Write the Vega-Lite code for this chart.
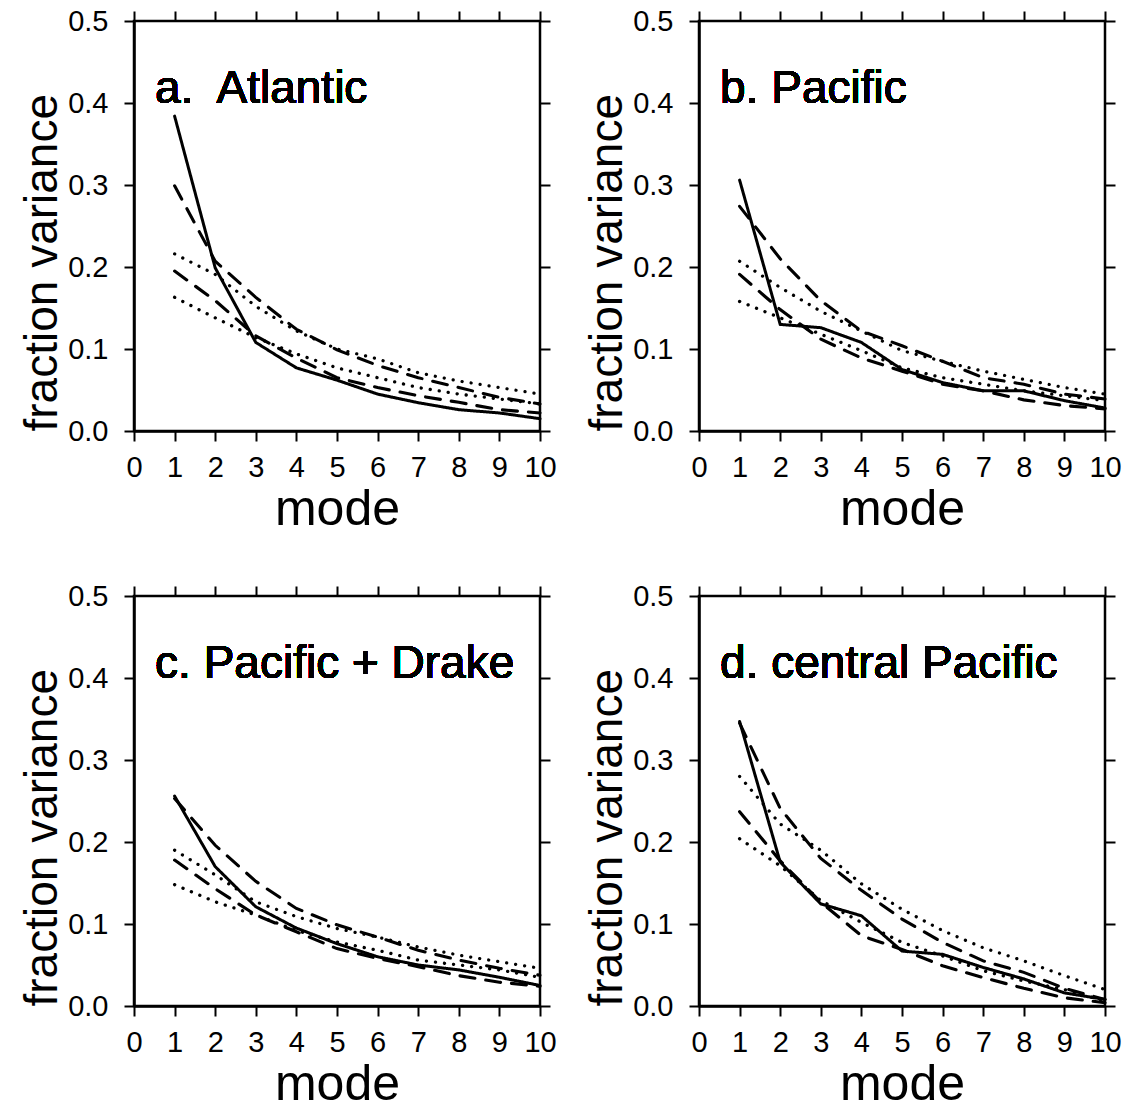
{
  "$schema": "https://vega.github.io/schema/vega-lite/v6.json",
  "padding": {"top": 5, "left": 18, "right": 0, "bottom": 0},
  "background": "white",
  "datasets": {
    "curves": [
      {"panel": "a", "series": "observed", "mode": 1, "value": 0.384},
      {"panel": "a", "series": "observed", "mode": 2, "value": 0.199},
      {"panel": "a", "series": "observed", "mode": 3, "value": 0.108},
      {"panel": "a", "series": "observed", "mode": 4, "value": 0.077},
      {"panel": "a", "series": "observed", "mode": 5, "value": 0.062},
      {"panel": "a", "series": "observed", "mode": 6, "value": 0.045},
      {"panel": "a", "series": "observed", "mode": 7, "value": 0.0345},
      {"panel": "a", "series": "observed", "mode": 8, "value": 0.026},
      {"panel": "a", "series": "observed", "mode": 9, "value": 0.022},
      {"panel": "a", "series": "observed", "mode": 10, "value": 0.015},
      {"panel": "a", "series": "dashed upper", "mode": 1, "value": 0.299},
      {"panel": "a", "series": "dashed upper", "mode": 2, "value": 0.207},
      {"panel": "a", "series": "dashed upper", "mode": 3, "value": 0.163},
      {"panel": "a", "series": "dashed upper", "mode": 4, "value": 0.124},
      {"panel": "a", "series": "dashed upper", "mode": 5, "value": 0.099},
      {"panel": "a", "series": "dashed upper", "mode": 6, "value": 0.080},
      {"panel": "a", "series": "dashed upper", "mode": 7, "value": 0.065},
      {"panel": "a", "series": "dashed upper", "mode": 8, "value": 0.053},
      {"panel": "a", "series": "dashed upper", "mode": 9, "value": 0.041},
      {"panel": "a", "series": "dashed upper", "mode": 10, "value": 0.033},
      {"panel": "a", "series": "dashed lower", "mode": 1, "value": 0.195},
      {"panel": "a", "series": "dashed lower", "mode": 2, "value": 0.159},
      {"panel": "a", "series": "dashed lower", "mode": 3, "value": 0.116},
      {"panel": "a", "series": "dashed lower", "mode": 4, "value": 0.089},
      {"panel": "a", "series": "dashed lower", "mode": 5, "value": 0.065},
      {"panel": "a", "series": "dashed lower", "mode": 6, "value": 0.053},
      {"panel": "a", "series": "dashed lower", "mode": 7, "value": 0.043},
      {"panel": "a", "series": "dashed lower", "mode": 8, "value": 0.035},
      {"panel": "a", "series": "dashed lower", "mode": 9, "value": 0.026},
      {"panel": "a", "series": "dashed lower", "mode": 10, "value": 0.022},
      {"panel": "a", "series": "dotted upper", "mode": 1, "value": 0.216},
      {"panel": "a", "series": "dotted upper", "mode": 2, "value": 0.191},
      {"panel": "a", "series": "dotted upper", "mode": 3, "value": 0.152},
      {"panel": "a", "series": "dotted upper", "mode": 4, "value": 0.122},
      {"panel": "a", "series": "dotted upper", "mode": 5, "value": 0.100},
      {"panel": "a", "series": "dotted upper", "mode": 6, "value": 0.088},
      {"panel": "a", "series": "dotted upper", "mode": 7, "value": 0.071},
      {"panel": "a", "series": "dotted upper", "mode": 8, "value": 0.061},
      {"panel": "a", "series": "dotted upper", "mode": 9, "value": 0.053},
      {"panel": "a", "series": "dotted upper", "mode": 10, "value": 0.045},
      {"panel": "a", "series": "dotted lower", "mode": 1, "value": 0.163},
      {"panel": "a", "series": "dotted lower", "mode": 2, "value": 0.138},
      {"panel": "a", "series": "dotted lower", "mode": 3, "value": 0.114},
      {"panel": "a", "series": "dotted lower", "mode": 4, "value": 0.094},
      {"panel": "a", "series": "dotted lower", "mode": 5, "value": 0.077},
      {"panel": "a", "series": "dotted lower", "mode": 6, "value": 0.065},
      {"panel": "a", "series": "dotted lower", "mode": 7, "value": 0.053},
      {"panel": "a", "series": "dotted lower", "mode": 8, "value": 0.045},
      {"panel": "a", "series": "dotted lower", "mode": 9, "value": 0.039},
      {"panel": "a", "series": "dotted lower", "mode": 10, "value": 0.033},

      {"panel": "b", "series": "observed", "mode": 1, "value": 0.306},
      {"panel": "b", "series": "observed", "mode": 2, "value": 0.130},
      {"panel": "b", "series": "observed", "mode": 3, "value": 0.126},
      {"panel": "b", "series": "observed", "mode": 4, "value": 0.108},
      {"panel": "b", "series": "observed", "mode": 5, "value": 0.075},
      {"panel": "b", "series": "observed", "mode": 6, "value": 0.059},
      {"panel": "b", "series": "observed", "mode": 7, "value": 0.049},
      {"panel": "b", "series": "observed", "mode": 8, "value": 0.049},
      {"panel": "b", "series": "observed", "mode": 9, "value": 0.037},
      {"panel": "b", "series": "observed", "mode": 10, "value": 0.028},
      {"panel": "b", "series": "dashed upper", "mode": 1, "value": 0.274},
      {"panel": "b", "series": "dashed upper", "mode": 2, "value": 0.210},
      {"panel": "b", "series": "dashed upper", "mode": 3, "value": 0.159},
      {"panel": "b", "series": "dashed upper", "mode": 4, "value": 0.122},
      {"panel": "b", "series": "dashed upper", "mode": 5, "value": 0.104},
      {"panel": "b", "series": "dashed upper", "mode": 6, "value": 0.085},
      {"panel": "b", "series": "dashed upper", "mode": 7, "value": 0.065},
      {"panel": "b", "series": "dashed upper", "mode": 8, "value": 0.057},
      {"panel": "b", "series": "dashed upper", "mode": 9, "value": 0.045},
      {"panel": "b", "series": "dashed upper", "mode": 10, "value": 0.039},
      {"panel": "b", "series": "dashed lower", "mode": 1, "value": 0.191},
      {"panel": "b", "series": "dashed lower", "mode": 2, "value": 0.148},
      {"panel": "b", "series": "dashed lower", "mode": 3, "value": 0.112},
      {"panel": "b", "series": "dashed lower", "mode": 4, "value": 0.089},
      {"panel": "b", "series": "dashed lower", "mode": 5, "value": 0.073},
      {"panel": "b", "series": "dashed lower", "mode": 6, "value": 0.057},
      {"panel": "b", "series": "dashed lower", "mode": 7, "value": 0.049},
      {"panel": "b", "series": "dashed lower", "mode": 8, "value": 0.038},
      {"panel": "b", "series": "dashed lower", "mode": 9, "value": 0.031},
      {"panel": "b", "series": "dashed lower", "mode": 10, "value": 0.027},
      {"panel": "b", "series": "dotted upper", "mode": 1, "value": 0.207},
      {"panel": "b", "series": "dotted upper", "mode": 2, "value": 0.175},
      {"panel": "b", "series": "dotted upper", "mode": 3, "value": 0.146},
      {"panel": "b", "series": "dotted upper", "mode": 4, "value": 0.122},
      {"panel": "b", "series": "dotted upper", "mode": 5, "value": 0.098},
      {"panel": "b", "series": "dotted upper", "mode": 6, "value": 0.085},
      {"panel": "b", "series": "dotted upper", "mode": 7, "value": 0.073},
      {"panel": "b", "series": "dotted upper", "mode": 8, "value": 0.063},
      {"panel": "b", "series": "dotted upper", "mode": 9, "value": 0.053},
      {"panel": "b", "series": "dotted upper", "mode": 10, "value": 0.045},
      {"panel": "b", "series": "dotted lower", "mode": 1, "value": 0.158},
      {"panel": "b", "series": "dotted lower", "mode": 2, "value": 0.138},
      {"panel": "b", "series": "dotted lower", "mode": 3, "value": 0.118},
      {"panel": "b", "series": "dotted lower", "mode": 4, "value": 0.098},
      {"panel": "b", "series": "dotted lower", "mode": 5, "value": 0.077},
      {"panel": "b", "series": "dotted lower", "mode": 6, "value": 0.065},
      {"panel": "b", "series": "dotted lower", "mode": 7, "value": 0.057},
      {"panel": "b", "series": "dotted lower", "mode": 8, "value": 0.049},
      {"panel": "b", "series": "dotted lower", "mode": 9, "value": 0.043},
      {"panel": "b", "series": "dotted lower", "mode": 10, "value": 0.037},

      {"panel": "c", "series": "observed", "mode": 1, "value": 0.256},
      {"panel": "c", "series": "observed", "mode": 2, "value": 0.170},
      {"panel": "c", "series": "observed", "mode": 3, "value": 0.121},
      {"panel": "c", "series": "observed", "mode": 4, "value": 0.095},
      {"panel": "c", "series": "observed", "mode": 5, "value": 0.076},
      {"panel": "c", "series": "observed", "mode": 6, "value": 0.060},
      {"panel": "c", "series": "observed", "mode": 7, "value": 0.050},
      {"panel": "c", "series": "observed", "mode": 8, "value": 0.044},
      {"panel": "c", "series": "observed", "mode": 9, "value": 0.035},
      {"panel": "c", "series": "observed", "mode": 10, "value": 0.025},
      {"panel": "c", "series": "dashed upper", "mode": 1, "value": 0.253},
      {"panel": "c", "series": "dashed upper", "mode": 2, "value": 0.196},
      {"panel": "c", "series": "dashed upper", "mode": 3, "value": 0.152},
      {"panel": "c", "series": "dashed upper", "mode": 4, "value": 0.119},
      {"panel": "c", "series": "dashed upper", "mode": 5, "value": 0.099},
      {"panel": "c", "series": "dashed upper", "mode": 6, "value": 0.084},
      {"panel": "c", "series": "dashed upper", "mode": 7, "value": 0.068},
      {"panel": "c", "series": "dashed upper", "mode": 8, "value": 0.056},
      {"panel": "c", "series": "dashed upper", "mode": 9, "value": 0.046},
      {"panel": "c", "series": "dashed upper", "mode": 10, "value": 0.0375},
      {"panel": "c", "series": "dashed lower", "mode": 1, "value": 0.178},
      {"panel": "c", "series": "dashed lower", "mode": 2, "value": 0.143},
      {"panel": "c", "series": "dashed lower", "mode": 3, "value": 0.111},
      {"panel": "c", "series": "dashed lower", "mode": 4, "value": 0.0905},
      {"panel": "c", "series": "dashed lower", "mode": 5, "value": 0.070},
      {"panel": "c", "series": "dashed lower", "mode": 6, "value": 0.058},
      {"panel": "c", "series": "dashed lower", "mode": 7, "value": 0.048},
      {"panel": "c", "series": "dashed lower", "mode": 8, "value": 0.037},
      {"panel": "c", "series": "dashed lower", "mode": 9, "value": 0.029},
      {"panel": "c", "series": "dashed lower", "mode": 10, "value": 0.024},
      {"panel": "c", "series": "dotted upper", "mode": 1, "value": 0.190},
      {"panel": "c", "series": "dotted upper", "mode": 2, "value": 0.160},
      {"panel": "c", "series": "dotted upper", "mode": 3, "value": 0.127},
      {"panel": "c", "series": "dotted upper", "mode": 4, "value": 0.109},
      {"panel": "c", "series": "dotted upper", "mode": 5, "value": 0.0945},
      {"panel": "c", "series": "dotted upper", "mode": 6, "value": 0.084},
      {"panel": "c", "series": "dotted upper", "mode": 7, "value": 0.072},
      {"panel": "c", "series": "dotted upper", "mode": 8, "value": 0.062},
      {"panel": "c", "series": "dotted upper", "mode": 9, "value": 0.054},
      {"panel": "c", "series": "dotted upper", "mode": 10, "value": 0.046},
      {"panel": "c", "series": "dotted lower", "mode": 1, "value": 0.148},
      {"panel": "c", "series": "dotted lower", "mode": 2, "value": 0.127},
      {"panel": "c", "series": "dotted lower", "mode": 3, "value": 0.111},
      {"panel": "c", "series": "dotted lower", "mode": 4, "value": 0.092},
      {"panel": "c", "series": "dotted lower", "mode": 5, "value": 0.078},
      {"panel": "c", "series": "dotted lower", "mode": 6, "value": 0.068},
      {"panel": "c", "series": "dotted lower", "mode": 7, "value": 0.056},
      {"panel": "c", "series": "dotted lower", "mode": 8, "value": 0.050},
      {"panel": "c", "series": "dotted lower", "mode": 9, "value": 0.044},
      {"panel": "c", "series": "dotted lower", "mode": 10, "value": 0.035},

      {"panel": "d", "series": "observed", "mode": 1, "value": 0.347},
      {"panel": "d", "series": "observed", "mode": 2, "value": 0.1755},
      {"panel": "d", "series": "observed", "mode": 3, "value": 0.1245},
      {"panel": "d", "series": "observed", "mode": 4, "value": 0.110},
      {"panel": "d", "series": "observed", "mode": 5, "value": 0.067},
      {"panel": "d", "series": "observed", "mode": 6, "value": 0.063},
      {"panel": "d", "series": "observed", "mode": 7, "value": 0.047},
      {"panel": "d", "series": "observed", "mode": 8, "value": 0.033},
      {"panel": "d", "series": "observed", "mode": 9, "value": 0.016},
      {"panel": "d", "series": "observed", "mode": 10, "value": 0.008},
      {"panel": "d", "series": "dashed upper", "mode": 1, "value": 0.345},
      {"panel": "d", "series": "dashed upper", "mode": 2, "value": 0.241},
      {"panel": "d", "series": "dashed upper", "mode": 3, "value": 0.180},
      {"panel": "d", "series": "dashed upper", "mode": 4, "value": 0.141},
      {"panel": "d", "series": "dashed upper", "mode": 5, "value": 0.106},
      {"panel": "d", "series": "dashed upper", "mode": 6, "value": 0.0775},
      {"panel": "d", "series": "dashed upper", "mode": 7, "value": 0.055},
      {"panel": "d", "series": "dashed upper", "mode": 8, "value": 0.041},
      {"panel": "d", "series": "dashed upper", "mode": 9, "value": 0.0216},
      {"panel": "d", "series": "dashed upper", "mode": 10, "value": 0.008},
      {"panel": "d", "series": "dashed lower", "mode": 1, "value": 0.237},
      {"panel": "d", "series": "dashed lower", "mode": 2, "value": 0.177},
      {"panel": "d", "series": "dashed lower", "mode": 3, "value": 0.1265},
      {"panel": "d", "series": "dashed lower", "mode": 4, "value": 0.0857},
      {"panel": "d", "series": "dashed lower", "mode": 5, "value": 0.069},
      {"panel": "d", "series": "dashed lower", "mode": 6, "value": 0.049},
      {"panel": "d", "series": "dashed lower", "mode": 7, "value": 0.0347},
      {"panel": "d", "series": "dashed lower", "mode": 8, "value": 0.0216},
      {"panel": "d", "series": "dashed lower", "mode": 9, "value": 0.010},
      {"panel": "d", "series": "dashed lower", "mode": 10, "value": 0.004},
      {"panel": "d", "series": "dotted upper", "mode": 1, "value": 0.280},
      {"panel": "d", "series": "dotted upper", "mode": 2, "value": 0.222},
      {"panel": "d", "series": "dotted upper", "mode": 3, "value": 0.190},
      {"panel": "d", "series": "dotted upper", "mode": 4, "value": 0.149},
      {"panel": "d", "series": "dotted upper", "mode": 5, "value": 0.118},
      {"panel": "d", "series": "dotted upper", "mode": 6, "value": 0.092},
      {"panel": "d", "series": "dotted upper", "mode": 7, "value": 0.071},
      {"panel": "d", "series": "dotted upper", "mode": 8, "value": 0.055},
      {"panel": "d", "series": "dotted upper", "mode": 9, "value": 0.037},
      {"panel": "d", "series": "dotted upper", "mode": 10, "value": 0.020},
      {"panel": "d", "series": "dotted lower", "mode": 1, "value": 0.204},
      {"panel": "d", "series": "dotted lower", "mode": 2, "value": 0.171},
      {"panel": "d", "series": "dotted lower", "mode": 3, "value": 0.1286},
      {"panel": "d", "series": "dotted lower", "mode": 4, "value": 0.102},
      {"panel": "d", "series": "dotted lower", "mode": 5, "value": 0.0776},
      {"panel": "d", "series": "dotted lower", "mode": 6, "value": 0.061},
      {"panel": "d", "series": "dotted lower", "mode": 7, "value": 0.043},
      {"panel": "d", "series": "dotted lower", "mode": 8, "value": 0.0306},
      {"panel": "d", "series": "dotted lower", "mode": 9, "value": 0.020},
      {"panel": "d", "series": "dotted lower", "mode": 10, "value": 0.006}
    ]
  },
  "columns": 2,
  "spacing": {"column": 25, "row": 44},
  "config": {
    "font": "Liberation Sans",
    "view": {"stroke": "black", "strokeWidth": 2.5},
    "axis": {
      "grid": false,
      "domainColor": "black",
      "domainWidth": 2.5,
      "tickColor": "black",
      "tickWidth": 2,
      "tickSize": 10,
      "labelColor": "black",
      "labelFont": "Liberation Sans",
      "labelFontSize": 29,
      "labelFlush": false,
      "labelOverlap": false,
      "titleColor": "black",
      "titleFont": "Liberation Sans",
      "titleFontWeight": "normal"
    }
  },
  "concat": [
    {
      "width": 406, "height": 410,
      "data": {"name": "curves"},
      "transform": [{"filter": "datum.panel == 'a'"}],
      "layer": [
        {
          "mark": {"type": "line", "strokeCap": "round"},
          "encoding": {
            "x": {"field": "mode", "type": "quantitative", "scale": {"domain": [0, 10], "nice": false}, "axis": {"orient": "bottom", "values": [0,1,2,3,4,5,6,7,8,9,10], "title": "mode", "titleFontSize": 50, "labelPadding": 12, "titlePadding": 2}},
            "y": {"field": "value", "type": "quantitative", "scale": {"domain": [0, 0.5], "nice": false}, "axis": {"orient": "left", "values": [0, 0.1, 0.2, 0.3, 0.4, 0.5], "format": ".1f", "title": "fraction variance", "titleFontSize": 46, "titleAnchor": "start", "labelPadding": 16, "titlePadding": 1}},
            "detail": {"field": "series"},
            "strokeDash": {"field": "series", "type": "nominal", "legend": null, "scale": {"domain": ["observed", "dashed upper", "dashed lower", "dotted upper", "dotted lower"], "range": [[1, 0], [15, 11], [15, 11], [0.1, 9], [0.1, 9]]}},
            "strokeWidth": {"field": "series", "type": "nominal", "legend": null, "scale": {"domain": ["observed", "dashed upper", "dashed lower", "dotted upper", "dotted lower"], "range": [3, 3.3, 3.3, 3.6, 3.6]}},
            "color": {"value": "black"}
          }
        },
        {
          "mark": {"type": "text", "align": "left", "baseline": "alphabetic", "fontSize": 46, "font": "Liberation Sans"},
          "encoding": {
            "x": {"datum": 0.52, "type": "quantitative", "axis": {"orient": "top", "values": [0,1,2,3,4,5,6,7,8,9,10], "labels": false, "title": null, "domain": false}},
            "y": {"datum": 0.4, "type": "quantitative", "axis": {"orient": "right", "values": [0, 0.1, 0.2, 0.3, 0.4, 0.5], "labels": false, "title": null, "domain": false}},
            "text": {"value": "a.\u00a0 Atlantic"},
            "color": {"value": "black"}
          }
        }
      ],
      "resolve": {"axis": {"x": "independent", "y": "independent"}}
    },
    {
      "width": 406, "height": 410,
      "data": {"name": "curves"},
      "transform": [{"filter": "datum.panel == 'b'"}],
      "layer": [
        {
          "mark": {"type": "line", "strokeCap": "round"},
          "encoding": {
            "x": {"field": "mode", "type": "quantitative", "scale": {"domain": [0, 10], "nice": false}, "axis": {"orient": "bottom", "values": [0,1,2,3,4,5,6,7,8,9,10], "title": "mode", "titleFontSize": 50, "labelPadding": 12, "titlePadding": 2}},
            "y": {"field": "value", "type": "quantitative", "scale": {"domain": [0, 0.5], "nice": false}, "axis": {"orient": "left", "values": [0, 0.1, 0.2, 0.3, 0.4, 0.5], "format": ".1f", "title": "fraction variance", "titleFontSize": 46, "titleAnchor": "start", "labelPadding": 16, "titlePadding": 1}},
            "detail": {"field": "series"},
            "strokeDash": {"field": "series", "type": "nominal", "legend": null, "scale": {"domain": ["observed", "dashed upper", "dashed lower", "dotted upper", "dotted lower"], "range": [[1, 0], [15, 11], [15, 11], [0.1, 9], [0.1, 9]]}},
            "strokeWidth": {"field": "series", "type": "nominal", "legend": null, "scale": {"domain": ["observed", "dashed upper", "dashed lower", "dotted upper", "dotted lower"], "range": [3, 3.3, 3.3, 3.6, 3.6]}},
            "color": {"value": "black"}
          }
        },
        {
          "mark": {"type": "text", "align": "left", "baseline": "alphabetic", "fontSize": 46, "font": "Liberation Sans"},
          "encoding": {
            "x": {"datum": 0.52, "type": "quantitative", "axis": {"orient": "top", "values": [0,1,2,3,4,5,6,7,8,9,10], "labels": false, "title": null, "domain": false}},
            "y": {"datum": 0.4, "type": "quantitative", "axis": {"orient": "right", "values": [0, 0.1, 0.2, 0.3, 0.4, 0.5], "labels": false, "title": null, "domain": false}},
            "text": {"value": "b. Pacific"},
            "color": {"value": "black"}
          }
        }
      ],
      "resolve": {"axis": {"x": "independent", "y": "independent"}}
    },
    {
      "width": 406, "height": 410,
      "data": {"name": "curves"},
      "transform": [{"filter": "datum.panel == 'c'"}],
      "layer": [
        {
          "mark": {"type": "line", "strokeCap": "round"},
          "encoding": {
            "x": {"field": "mode", "type": "quantitative", "scale": {"domain": [0, 10], "nice": false}, "axis": {"orient": "bottom", "values": [0,1,2,3,4,5,6,7,8,9,10], "title": "mode", "titleFontSize": 50, "labelPadding": 12, "titlePadding": 2}},
            "y": {"field": "value", "type": "quantitative", "scale": {"domain": [0, 0.5], "nice": false}, "axis": {"orient": "left", "values": [0, 0.1, 0.2, 0.3, 0.4, 0.5], "format": ".1f", "title": "fraction variance", "titleFontSize": 46, "titleAnchor": "start", "labelPadding": 16, "titlePadding": 1}},
            "detail": {"field": "series"},
            "strokeDash": {"field": "series", "type": "nominal", "legend": null, "scale": {"domain": ["observed", "dashed upper", "dashed lower", "dotted upper", "dotted lower"], "range": [[1, 0], [15, 11], [15, 11], [0.1, 9], [0.1, 9]]}},
            "strokeWidth": {"field": "series", "type": "nominal", "legend": null, "scale": {"domain": ["observed", "dashed upper", "dashed lower", "dotted upper", "dotted lower"], "range": [3, 3.3, 3.3, 3.6, 3.6]}},
            "color": {"value": "black"}
          }
        },
        {
          "mark": {"type": "text", "align": "left", "baseline": "alphabetic", "fontSize": 46, "font": "Liberation Sans"},
          "encoding": {
            "x": {"datum": 0.52, "type": "quantitative", "axis": {"orient": "top", "values": [0,1,2,3,4,5,6,7,8,9,10], "labels": false, "title": null, "domain": false}},
            "y": {"datum": 0.4, "type": "quantitative", "axis": {"orient": "right", "values": [0, 0.1, 0.2, 0.3, 0.4, 0.5], "labels": false, "title": null, "domain": false}},
            "text": {"value": "c. Pacific + Drake"},
            "color": {"value": "black"}
          }
        }
      ],
      "resolve": {"axis": {"x": "independent", "y": "independent"}}
    },
    {
      "width": 406, "height": 410,
      "data": {"name": "curves"},
      "transform": [{"filter": "datum.panel == 'd'"}],
      "layer": [
        {
          "mark": {"type": "line", "strokeCap": "round"},
          "encoding": {
            "x": {"field": "mode", "type": "quantitative", "scale": {"domain": [0, 10], "nice": false}, "axis": {"orient": "bottom", "values": [0,1,2,3,4,5,6,7,8,9,10], "title": "mode", "titleFontSize": 50, "labelPadding": 12, "titlePadding": 2}},
            "y": {"field": "value", "type": "quantitative", "scale": {"domain": [0, 0.5], "nice": false}, "axis": {"orient": "left", "values": [0, 0.1, 0.2, 0.3, 0.4, 0.5], "format": ".1f", "title": "fraction variance", "titleFontSize": 46, "titleAnchor": "start", "labelPadding": 16, "titlePadding": 1}},
            "detail": {"field": "series"},
            "strokeDash": {"field": "series", "type": "nominal", "legend": null, "scale": {"domain": ["observed", "dashed upper", "dashed lower", "dotted upper", "dotted lower"], "range": [[1, 0], [15, 11], [15, 11], [0.1, 9], [0.1, 9]]}},
            "strokeWidth": {"field": "series", "type": "nominal", "legend": null, "scale": {"domain": ["observed", "dashed upper", "dashed lower", "dotted upper", "dotted lower"], "range": [3, 3.3, 3.3, 3.6, 3.6]}},
            "color": {"value": "black"}
          }
        },
        {
          "mark": {"type": "text", "align": "left", "baseline": "alphabetic", "fontSize": 46, "font": "Liberation Sans"},
          "encoding": {
            "x": {"datum": 0.52, "type": "quantitative", "axis": {"orient": "top", "values": [0,1,2,3,4,5,6,7,8,9,10], "labels": false, "title": null, "domain": false}},
            "y": {"datum": 0.4, "type": "quantitative", "axis": {"orient": "right", "values": [0, 0.1, 0.2, 0.3, 0.4, 0.5], "labels": false, "title": null, "domain": false}},
            "text": {"value": "d. central Pacific"},
            "color": {"value": "black"}
          }
        }
      ],
      "resolve": {"axis": {"x": "independent", "y": "independent"}}
    }
  ]
}
